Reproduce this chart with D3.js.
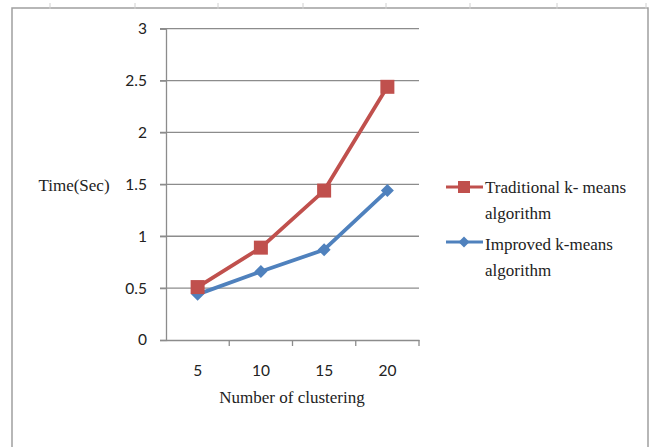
<!DOCTYPE html>
<html><head><meta charset="utf-8">
<script src="https://cdn.jsdelivr.net/npm/d3@7"></script>
<style>html,body{margin:0;padding:0;background:#fff;}svg{display:block;}</style>
</head><body>
<svg id="c" width="652" height="447"></svg>
<script>
const categories = ["5", "10", "15", "20"];
const traditional = [0.51, 0.89, 1.44, 2.44];
const improved = [0.44, 0.66, 0.87, 1.44];
const yTicks = [0, 0.5, 1, 1.5, 2, 2.5, 3];
const seriesNames = ["Traditional k- means", "Improved k-means"];

const svg = d3.select("#c");
const red = "#C0504D", blue = "#4F81BD";

// outer frame
svg.append("path").attr("d","M12,447 V8 H648 V447").attr("fill","none").attr("stroke","#a0a0a0").attr("stroke-width",1.5);
// top ruler marks
[50,135,218,303,386,470,557,646].forEach(x=>{
  svg.append("line").attr("x1",x).attr("x2",x).attr("y1",3).attr("y2",9).attr("stroke","#d0d0d0").attr("stroke-width",1);
});

const x = d3.scaleBand().domain(categories).range([166, 419]);
const y = d3.scaleLinear().domain([0,3]).range([340, 28.7]);

// gridlines
svg.append("g").selectAll("line").data(yTicks.filter(d=>d>0)).join("line")
  .attr("x1",160).attr("x2",419).attr("y1",d=>y(d)).attr("y2",d=>y(d))
  .attr("stroke","#8c8c8c").attr("stroke-width",1.3);

const sans = "Lato, 'Open Sans', sans-serif";
// y axis
const yAxis = d3.axisLeft(y).tickValues(yTicks).tickSize(6).tickPadding(13).tickFormat(d=>String(d));
const gy = svg.append("g").attr("transform","translate(166,0)").call(yAxis);
gy.select(".domain").attr("stroke","#8c8c8c").attr("stroke-width",1.3);
gy.selectAll(".tick line").attr("stroke","#8c8c8c").attr("stroke-width",1.3);
gy.selectAll("text").attr("font-family",sans).attr("font-size",15.5).attr("fill","#222");

// x axis
const xAxis = d3.axisBottom(x).tickSize(0).tickPadding(25);
const gx = svg.append("g").attr("transform","translate(0,340)").call(xAxis);
gx.select(".domain").attr("stroke","#8c8c8c").attr("stroke-width",1.3);
gx.selectAll("text").attr("font-family",sans).attr("font-size",15.5).attr("fill","#222");
// band boundary ticks
const bounds = categories.map(c=>x(c)).concat([x.range()[1]]);
gx.selectAll(".bt").data(bounds.slice(1)).join("line").attr("class","bt")
  .attr("x1",d=>d).attr("x2",d=>d).attr("y1",0).attr("y2",6)
  .attr("stroke","#8c8c8c").attr("stroke-width",1.3);

const cx = c => x(c) + x.bandwidth()/2;
const line = d3.line().x((d,i)=>cx(categories[i])).y(d=>y(d));

svg.append("path").datum(traditional).attr("d",line).attr("fill","none").attr("stroke",red).attr("stroke-width",3.8).attr("stroke-linejoin","round");
svg.append("path").datum(improved).attr("d",line).attr("fill","none").attr("stroke",blue).attr("stroke-width",3.8).attr("stroke-linejoin","round");

svg.append("g").selectAll("path").data(improved).join("path")
  .attr("transform",(d,i)=>`translate(${cx(categories[i])},${y(d)})`)
  .attr("d","M0,-6.5 L6.5,0 L0,6.5 L-6.5,0 Z").attr("fill",blue);
svg.append("g").selectAll("rect").data(traditional).join("rect")
  .attr("x",(d,i)=>cx(categories[i])-7).attr("y",d=>y(d)-7)
  .attr("width",14).attr("height",14).attr("fill",red);

// axis titles
const serif = "'Liberation Serif', 'DejaVu Serif', serif";
svg.append("text").attr("x",74).attr("y",191).attr("text-anchor","middle")
  .attr("font-family",serif).attr("font-size",17).attr("fill","#222").text("Time(Sec)");
svg.append("text").attr("x",292).attr("y",403).attr("text-anchor","middle")
  .attr("font-family",serif).attr("font-size",17).attr("fill","#222").text("Number of clustering");

// legend
const leg = [{name:seriesNames[0], color:red, ly:187, ty:193, shape:"sq"},{name:seriesNames[1], color:blue, ly:242, ty:250, shape:"di"}];
leg.forEach(L=>{
  const g = svg.append("g");
  g.append("line").attr("x1",446).attr("x2",483).attr("y1",L.ly).attr("y2",L.ly).attr("stroke",L.color).attr("stroke-width",3);
  if(L.shape==="sq") g.append("rect").attr("x",458).attr("y",L.ly-6).attr("width",12).attr("height",12).attr("fill",L.color);
  else g.append("path").attr("transform",`translate(464,${L.ly})`).attr("d","M0,-5.5 L5.5,0 L0,5.5 L-5.5,0 Z").attr("fill",L.color);
  g.append("text").attr("x",485).attr("y",L.ty).attr("font-family",serif).attr("font-size",17).attr("fill","#222").text(L.name);
  g.append("text").attr("x",485).attr("y",L.ty+26).attr("font-family",serif).attr("font-size",17).attr("fill","#222").text("algorithm");
});
</script>
</body></html>
